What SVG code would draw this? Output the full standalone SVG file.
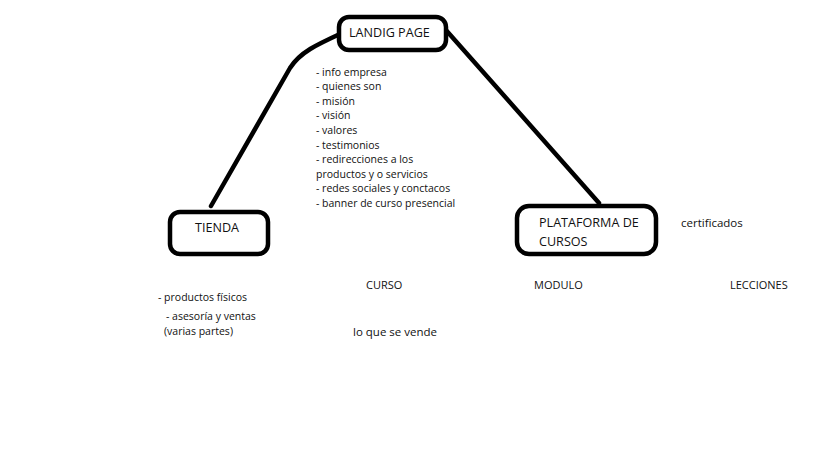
<svg xmlns="http://www.w3.org/2000/svg" width="819" height="460" viewBox="0 0 819 460">
<style>
text{font-family:"Open Sans","Noto Sans","Liberation Sans",sans-serif;font-size:11px;fill:#111}
.big{font-size:12.6px}
.sm{font-size:10.5px}
.md{font-size:11.5px}
.box{fill:#fff;stroke:#000;stroke-width:4.5}
.con{fill:none;stroke:#000;stroke-width:4.5;stroke-linecap:round;stroke-linejoin:round}
</style>
<rect width="819" height="460" fill="#fff"/>
<g id="connectors">
<path class="con" d="M342,33 C318,44 300,52 290,68 L211,206"/>
<path class="con" d="M445,29 L599,203"/>
</g>
<g id="landing">
<rect class="box" x="339" y="17" width="107" height="33" rx="10"/>
<text class="big" x="349" y="37">LANDIG PAGE</text>
</g>
<g id="landing-list" class="sm">
<text class="sm" x="316" y="76">- info empresa</text>
<text class="sm" x="316" y="90">- quienes son</text>
<text class="sm" x="316" y="105">- misión</text>
<text class="sm" x="316" y="119">- visión</text>
<text class="sm" x="316" y="134">- valores</text>
<text class="sm" x="316" y="149">- testimonios</text>
<text class="sm" x="316" y="163">- redirecciones a los</text>
<text class="sm" x="316" y="178">productos y o servicios</text>
<text class="sm" x="316" y="192">- redes sociales y conctacos</text>
<text class="sm" x="316" y="207">- banner de curso presencial</text>
</g>
<g id="tienda">
<rect class="box" x="170" y="212" width="98" height="42" rx="10"/>
<text class="big" x="195" y="232">TIENDA</text>
</g>
<g id="tienda-list">
<text class="sm" x="158" y="301">- productos físicos</text>
<text class="sm" x="166" y="320">- asesoría y ventas</text>
<text class="sm" x="164" y="335">(varias partes)</text>
</g>
<g id="plataforma">
<rect class="box" x="517" y="206" width="139" height="48" rx="12"/>
<text class="big" x="539" y="227">PLATAFORMA DE</text>
<text class="big" x="539" y="246">CURSOS</text>
</g>
<g id="labels">
<text class="md" x="681" y="227">certificados</text>
<text x="366" y="289">CURSO</text>
<text x="534" y="289">MODULO</text>
<text x="730" y="289">LECCIONES</text>
<text class="md" x="353" y="336">lo que se vende</text>
</g>
</svg>
